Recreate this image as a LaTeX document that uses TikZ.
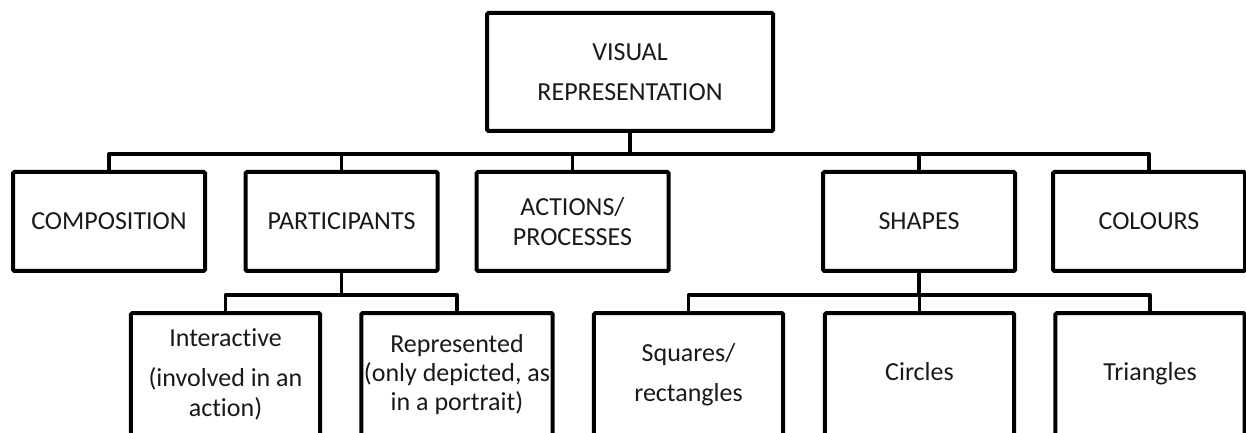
\documentclass[tikz,border=0pt]{standalone}
\usepackage{fontspec}
\setmainfont{Carlito}[Ligatures=NoCommon]

\tikzset{
  box/.style={draw, line width=3pt, rounded corners=1pt, align=center,
    inner sep=2pt, minimum width=144pt, minimum height=74.25pt,
    font=\fontsize{19.5}{22}\selectfont, text=black!90},
  leafbox/.style={box, minimum width=142pt, minimum height=92pt},
  link/.style={line width=2.5pt, line join=round}
}

\begin{document}
\begin{tikzpicture}[x=0.75pt, y=0.75pt]

        % ==== PAGE ====
        \useasboundingbox (0,0) rectangle (1246,432);

        % ==== ROOT ====
        \node[box, minimum width=214.5pt, minimum height=88.5pt] (root) at (630,360)
            {VISUAL\\[8pt]REPRESENTATION};

        % ==== FIRST LEVEL ====
        \node[box] (comp)    at (109,210.5)   {COMPOSITION};
        \node[box] (part)    at (341.5,210.5) {PARTICIPANTS};
        \node[box] (act)     at (572.5,210.5) {ACTIONS/\\PROCESSES};
        \node[box] (shapes)  at (919,210.5)   {SHAPES};
        \node[box] (colours) at (1149,210.5)  {COLOURS};

        % ==== SECOND LEVEL ====
        \node[leafbox] (inter)     at (225.5,57.5) {Interactive\\[8pt](involved in an\\action)};
        \node[leafbox] (repr)      at (457,57.5)   {Represented\\(only depicted, as\\in a portrait)};
        \node[leafbox] (squares)   at (688.5,57.5) {Squares/\\[8pt]rectangles};
        \node[leafbox] (circles)   at (919.5,57.5) {\strut Circles};
        \node[leafbox] (triangles) at (1150,57.5)  {\strut Triangles};

        % ==== CONNECTORS ====
        \foreach \c in {comp,part,act,shapes,colours}{
            \draw[link] (root.south) -- ++(0,-21) -| (\c.north);
        }
        \foreach \c in {inter,repr}{
            \draw[link] (part.south) -- ++(0,-22) -| (\c.north);
        }
        \foreach \c in {squares,circles,triangles}{
            \draw[link] (shapes.south) -- ++(0,-22) -| (\c.north);
        }

    \end{tikzpicture}
\end{document}
